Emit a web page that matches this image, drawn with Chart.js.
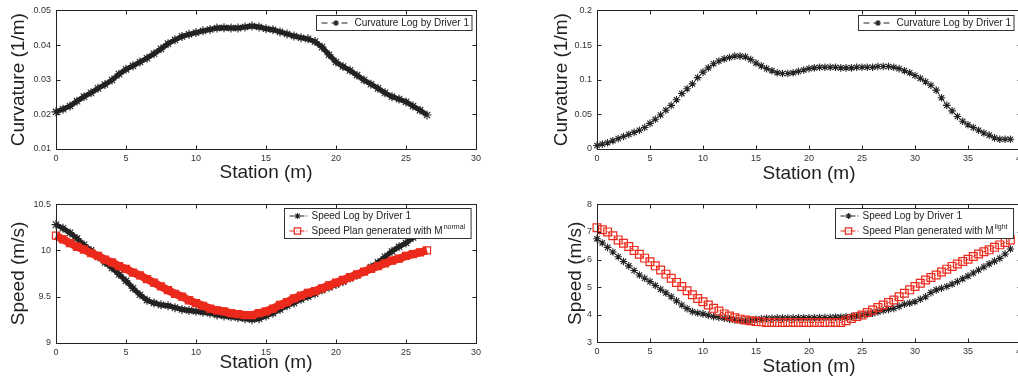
<!DOCTYPE html>
<html>
<head>
<meta charset="utf-8">
<script src="https://cdn.jsdelivr.net/npm/chart.js@4.4.1/dist/chart.umd.min.js"></script>
<style>
  html, body { margin: 0; padding: 0; background: #fff; overflow: hidden; }
  #page { position: relative; width: 1018px; height: 379px; overflow: hidden; }
  canvas { position: absolute; }
</style>
</head>
<body>
<div id="page">
  <canvas id="curvLeftChart" width="500" height="190" style="left:0;top:0"></canvas>
  <canvas id="curvRightChart" width="520" height="190" style="left:510px;top:0"></canvas>
  <canvas id="speedLeftChart" width="500" height="190" style="left:0;top:189px"></canvas>
  <canvas id="speedRightChart" width="520" height="190" style="left:510px;top:189px"></canvas>
</div>
<script>
// station samples (m)
const stationLeft = [0,0.5,1,1.5,2,2.5,3,3.5,4,4.5,5,5.5,6,6.5,7,7.5,8,8.5,9,9.5,
  10,10.5,11,11.5,12,12.5,13,13.5,14,14.5,15,15.5,16,16.5,17,17.5,18,18.5,19,19.5,
  20,20.5,21,21.5,22,22.5,23,23.5,24,24.5,25,25.5,26,26.5];
const stationRight = [0,0.5,1,1.5,2,2.5,3,3.5,4,4.5,5,5.5,6,6.5,7,7.5,8,8.5,9,9.5,
  10,10.5,11,11.5,12,12.5,13,13.5,14,14.5,15,15.5,16,16.5,17,17.5,18,18.5,19,19.5,
  20,20.5,21,21.5,22,22.5,23,23.5,24,24.5,25,25.5,26,26.5,27,27.5,28,28.5,29,29.5,
  30,30.5,31,31.5,32,32.5,33,33.5,34,34.5,35,35.5,36,36.5,37,37.5,38,38.5,39];

// curvature logs (1/m)
const curvLeft = [0.0207,0.0215,0.0224,0.0238,0.0251,0.0262,0.0275,0.0286,0.0299,0.0316,
  0.0330,0.0340,0.0351,0.0362,0.0375,0.0389,0.0404,0.0415,0.0425,0.0431,
  0.0436,0.0441,0.0445,0.0449,0.0450,0.0449,0.0449,0.0452,0.0455,0.0452,
  0.0447,0.0444,0.0438,0.0432,0.0426,0.0421,0.0418,0.0410,0.0394,0.0372,
  0.0351,0.0338,0.0327,0.0313,0.0299,0.0287,0.0275,0.0262,0.0251,0.0244,
  0.0236,0.0224,0.0212,0.0198];
const curvRight = [0.005,0.007,0.009,0.012,0.015,0.018,0.021,0.024,0.027,0.031,
  0.037,0.043,0.049,0.056,0.063,0.071,0.080,0.087,0.094,0.103,
  0.111,0.117,0.123,0.127,0.130,0.132,0.134,0.134,0.133,0.129,
  0.124,0.120,0.116,0.113,0.110,0.109,0.109,0.110,0.112,0.114,
  0.116,0.117,0.118,0.118,0.118,0.118,0.117,0.117,0.117,0.118,
  0.118,0.118,0.118,0.119,0.119,0.119,0.118,0.116,0.113,0.110,
  0.106,0.102,0.097,0.092,0.085,0.074,0.063,0.055,0.047,0.040,
  0.035,0.031,0.027,0.023,0.020,0.016,0.014,0.014,0.014];

// speed (m/s): driver log and generated plan
const speedLeftLog = [10.28,10.24,10.19,10.13,10.06,10.00,9.93,9.87,9.81,9.74,
  9.67,9.59,9.52,9.46,9.43,9.41,9.40,9.38,9.36,9.35,
  9.34,9.33,9.32,9.30,9.29,9.28,9.27,9.26,9.25,9.26,
  9.29,9.32,9.36,9.40,9.43,9.47,9.50,9.53,9.57,9.60,
  9.63,9.66,9.70,9.73,9.77,9.82,9.87,9.93,9.99,10.04,
  10.08,10.14,10.19,10.25];
const speedLeftPlan = [10.16,10.12,10.08,10.04,10.01,9.97,9.94,9.90,9.87,9.83,
  9.80,9.76,9.73,9.69,9.65,9.61,9.57,9.53,9.50,9.46,
  9.43,9.40,9.37,9.35,9.34,9.32,9.31,9.30,9.30,9.32,
  9.34,9.37,9.41,9.44,9.48,9.51,9.54,9.56,9.59,9.62,
  9.65,9.68,9.71,9.74,9.77,9.80,9.83,9.86,9.89,9.91,
  9.94,9.96,9.98,10.00];
const speedRightLog = [6.75,6.60,6.44,6.27,6.10,5.93,5.77,5.60,5.44,5.32,
  5.20,5.06,4.92,4.79,4.65,4.50,4.35,4.22,4.11,4.06,
  4.03,3.98,3.93,3.90,3.87,3.84,3.81,3.79,3.77,3.80,
  3.83,3.85,3.87,3.87,3.88,3.88,3.88,3.88,3.89,3.89,
  3.89,3.89,3.90,3.90,3.90,3.91,3.91,3.92,3.93,3.96,
  3.99,4.02,4.05,4.10,4.15,4.19,4.23,4.30,4.38,4.42,
  4.47,4.56,4.65,4.80,4.90,4.96,5.02,5.11,5.20,5.30,
  5.40,5.51,5.62,5.73,5.84,5.94,6.04,6.20,6.38];
const speedRightPlan = [7.15,7.08,7.00,6.86,6.71,6.59,6.47,6.33,6.19,6.05,
  5.92,5.77,5.62,5.47,5.32,5.17,5.02,4.87,4.72,4.59,
  4.47,4.35,4.23,4.13,4.03,3.95,3.89,3.84,3.81,3.78,
  3.75,3.74,3.72,3.72,3.72,3.72,3.72,3.72,3.72,3.72,
  3.72,3.72,3.72,3.72,3.72,3.72,3.72,3.78,3.86,3.93,
  3.99,4.08,4.17,4.26,4.35,4.44,4.53,4.65,4.78,4.90,
  5.02,5.14,5.26,5.35,5.44,5.55,5.65,5.75,5.84,5.93,
  6.01,6.11,6.20,6.28,6.35,6.44,6.53,6.62,6.71];

const FONT = '"Liberation Sans", Arial, Helvetica, sans-serif';
const INK = '#222';
const RED = '#ec2a1c';

const pairs = (xs, ys) => xs.map((x, i) => ({ x, y: ys[i] }));
// MATLAB style tick text: no trailing zeros (0.2, 10, 9.5)
const tickText = v => String(parseFloat(Number(v).toFixed(6)));

// MATLAB-like box: frame, inward ticks on all sides, and an in-axes legend
const framePlugin = {
  id: 'frame',
  afterDraw(chart, args, opts) {
    const { ctx, chartArea: a, scales: { x, y } } = chart;
    const L = Math.round(a.left) + 0.5, R = Math.round(a.right) + 0.5;
    const T = Math.round(a.top) + 0.5, B = Math.round(a.bottom) + 0.5;
    ctx.save();
    ctx.strokeStyle = INK;
    ctx.lineWidth = 1;
    ctx.setLineDash([]);
    ctx.strokeRect(L, T, R - L, B - T);
    ctx.beginPath();
    x.ticks.forEach(t => {
      const px = Math.round(x.getPixelForValue(t.value)) + 0.5;
      ctx.moveTo(px, B); ctx.lineTo(px, B - 4);
      ctx.moveTo(px, T); ctx.lineTo(px, T + 4);
    });
    y.ticks.forEach(t => {
      const py = Math.round(y.getPixelForValue(t.value)) + 0.5;
      ctx.moveTo(L, py); ctx.lineTo(L + 4, py);
      ctx.moveTo(R, py); ctx.lineTo(R - 4, py);
    });
    ctx.stroke();

    // legend
    const font = '10px ' + FONT, supFont = '7px ' + FONT;
    const items = chart.data.datasets.slice().sort((p, q) => p.legendRow - q.legendRow);
    const widths = items.map(ds => {
      ctx.font = font;
      let w = ctx.measureText(ds.label).width;
      if (ds.labelSup) { ctx.font = supFont; w += ctx.measureText(ds.labelSup).width + 1; }
      return w;
    });
    const boxW = opts.textX + Math.max(...widths) + opts.padR;
    const boxH = items.length * opts.rowH;
    const bx = Math.round(a.right - opts.right - boxW) + 0.5;
    const by = Math.round(a.top + opts.top) + 0.5;
    ctx.fillStyle = '#fff';
    ctx.fillRect(bx, by, boxW, boxH);
    ctx.strokeStyle = '#333';
    ctx.strokeRect(bx, by, boxW, boxH);
    items.forEach((ds, i) => {
      const cy = by + opts.rowH * (i + 0.5);
      ctx.strokeStyle = ds.borderColor;
      ctx.lineWidth = 1;
      ctx.setLineDash(ds.legendDash || []);
      ctx.beginPath();
      ctx.moveTo(bx + opts.lineFrom, cy);
      ctx.lineTo(bx + opts.lineTo, cy);
      ctx.stroke();
      ctx.setLineDash([]);
      ctx.strokeStyle = ds.pointBorderColor;
      ctx.fillStyle = 'rgba(0,0,0,0)';
      ctx.lineWidth = ds.pointBorderWidth;
      Chart.helpers.drawPoint(ctx, {
        pointStyle: ds.pointStyle, radius: ds.legendRadius, rotation: 0,
        borderWidth: ds.pointBorderWidth
      }, bx + opts.marker, cy);
      ctx.fillStyle = INK;
      ctx.font = font;
      ctx.textBaseline = 'middle';
      ctx.textAlign = 'left';
      ctx.fillText(ds.label, bx + opts.textX, cy);
      if (ds.labelSup) {
        const w = ctx.measureText(ds.label).width;
        ctx.font = supFont;
        ctx.fillText(ds.labelSup, bx + opts.textX + w + 1, cy - 4);
      }
    });
    ctx.restore();
  }
};

function makePlot(canvasId, p) {
  const canvas = document.getElementById(canvasId);
  const W = canvas.width, H = canvas.height;
  return new Chart(canvas, {
    type: 'scatter',
    data: { datasets: p.datasets },
    plugins: [framePlugin],
    options: {
      responsive: false,
      animation: false,
      events: [],
      layout: { padding: { left: 0, top: p.area.top, right: W - p.area.right, bottom: 0 } },
      elements: { line: { tension: 0 } },
      plugins: {
        legend: { display: false },
        tooltip: { enabled: false },
        frame: p.legend
      },
      scales: {
        x: {
          type: 'linear', min: p.xMin, max: p.xMax,
          afterFit: s => { s.height = H - p.area.bottom; },
          grid: { display: false, drawTicks: false },
          border: { display: false },
          ticks: { stepSize: p.xStep, padding: 4, color: '#333', callback: tickText,
            font: { family: FONT, size: 9 } },
          title: { display: true, text: 'Station (m)', color: INK,
            font: { family: FONT, size: 19, lineHeight: 1.2 }, padding: { top: 0, bottom: p.xTitlePad } }
        },
        y: {
          type: 'linear', min: p.yMin, max: p.yMax,
          afterFit: s => { s.width = p.area.left; },
          grid: { display: false, drawTicks: false },
          border: { display: false },
          ticks: { stepSize: p.yStep, padding: 5, color: '#333', callback: tickText,
            font: { family: FONT, size: 9 } },
          title: { display: true, text: p.yTitle, color: INK,
            font: { family: FONT, size: 19, lineHeight: 1.2 }, padding: { top: p.yTitlePad, bottom: 0 } }
        }
      }
    }
  });
}

function logSet(xs, ys, label, lineW, radius, dash, legendDash) {
  return {
    label, data: pairs(xs, ys), showLine: true, order: 1, legendRow: 0, clip: false,
    borderColor: INK, borderWidth: lineW, borderDash: dash, legendDash, legendRadius: 3,
    pointStyle: 'star', pointRadius: radius, pointBorderColor: INK, pointBorderWidth: 1.1,
    pointBackgroundColor: INK
  };
}
function planSet(xs, ys, sup, lineW, radius, dash) {
  return {
    label: 'Speed Plan generated with M', labelSup: sup,
    data: pairs(xs, ys), showLine: true, order: 0, legendRow: 1, clip: false,
    borderColor: RED, borderWidth: lineW, borderDash: dash, legendDash: [5, 2, 1, 2], legendRadius: 4.5,
    pointStyle: 'rect', pointRadius: radius, pointBorderColor: RED, pointBorderWidth: 1.2,
    pointBackgroundColor: 'rgba(255,255,255,0)'
  };
}

const topLegend = { right: 5, top: 5, rowH: 15, lineFrom: 5, lineTo: 34, marker: 19.5, textX: 38, padR: 3 };
const speedLegend = { right: 5, top: 4, rowH: 15, lineFrom: 5, lineTo: 24, marker: 13, textX: 27, padR: 6 };

makePlot('curvLeftChart', {
  area: { left: 56, top: 10, right: 476, bottom: 149 },
  xMin: 0, xMax: 30, xStep: 5, yMin: 0.01, yMax: 0.05, yStep: 0.01,
  yTitle: 'Curvature (1/m)', yTitlePad: 7, xTitlePad: 5.6,
  legend: topLegend,
  datasets: [logSet(stationLeft, curvLeft, 'Curvature Log by Driver 1', 5, 4.5, [], [6, 4])]
});

makePlot('curvRightChart', {
  area: { left: 87, top: 10, right: 511, bottom: 149 },
  xMin: 0, xMax: 40, xStep: 5, yMin: 0, yMax: 0.2, yStep: 0.05,
  yTitle: 'Curvature (1/m)', yTitlePad: 40.6, xTitlePad: 5.3,
  legend: Object.assign({}, topLegend, { right: 8 }),
  datasets: [logSet(stationRight, curvRight, 'Curvature Log by Driver 1', 1, 3.8, [6, 4], [6, 4])]
});

makePlot('speedLeftChart', {
  area: { left: 56, top: 15.3, right: 476, bottom: 153.7 },
  xMin: 0, xMax: 30, xStep: 5, yMin: 9, yMax: 10.5, yStep: 0.5,
  yTitle: 'Speed (m/s)', yTitlePad: 7.6, xTitlePad: 4.6,
  legend: speedLegend,
  datasets: [
    logSet(stationLeft, speedLeftLog, 'Speed Log by Driver 1', 5, 4.5, [], [5, 2, 1, 2]),
    planSet(stationLeft, speedLeftPlan, 'normal', 8, 5, [])
  ]
});

makePlot('speedRightChart', {
  area: { left: 87, top: 15.3, right: 511, bottom: 153.3 },
  xMin: 0, xMax: 40, xStep: 5, yMin: 3, yMax: 8, yStep: 1,
  yTitle: 'Speed (m/s)', yTitlePad: 54.6, xTitlePad: 1,
  legend: Object.assign({}, speedLegend, { right: 8 }),
  datasets: [
    logSet(stationRight, speedRightLog, 'Speed Log by Driver 1', 1, 3.8, [5, 2, 1, 2], [5, 2, 1, 2]),
    planSet(stationRight, speedRightPlan, 'light', 1, 5.5, [5, 2, 1, 2])
  ]
});
</script>
</body>
</html>
